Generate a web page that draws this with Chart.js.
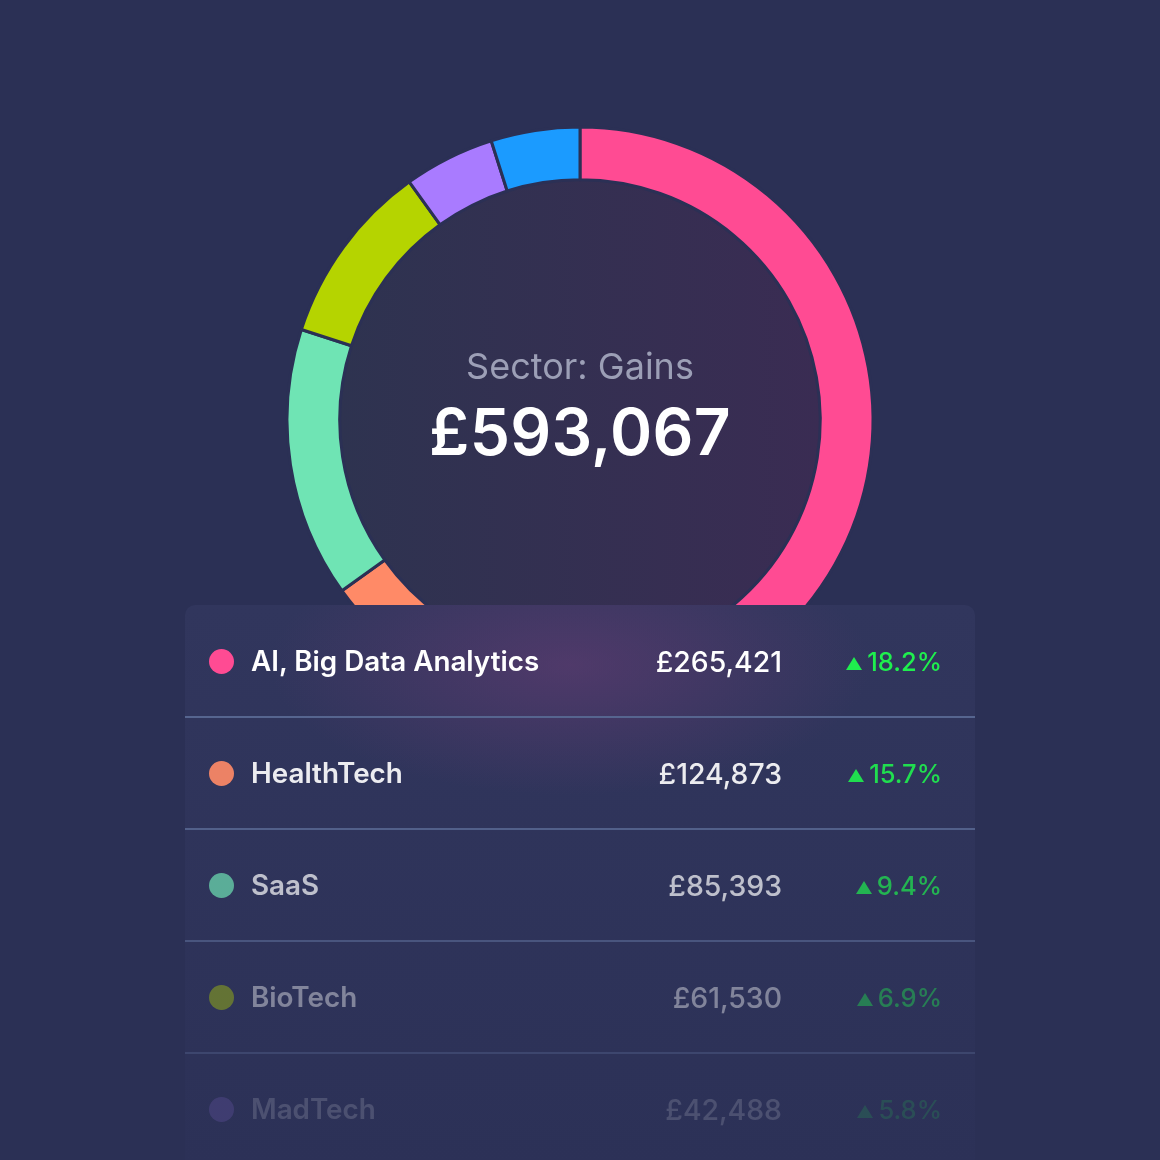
<!DOCTYPE html>
<html>
<head>
<meta charset="utf-8">
<script src="https://cdn.jsdelivr.net/npm/chart.js@4.4.1/dist/chart.umd.min.js"></script>
<style>
  html, body { margin: 0; padding: 0; }
  body { width: 1160px; height: 1160px; background: #2b3055; position: relative; overflow: hidden; font-family: Inter, "Noto Sans", sans-serif; }
  #ring { position: absolute; left: 280px; top: 120px; width: 600px; height: 600px; }
  #center { position: absolute; left: 330px; top: 340px; width: 500px; text-align: center; pointer-events: none; }
  #center .sub { color: #9c9fb6; font-size: 36px; font-weight: 400; line-height: 52px; }
  #center .total { color: #ffffff; font-size: 64px; font-weight: 600; line-height: 80px; letter-spacing: 0.3px; }
  #panel { position: absolute; left: 185px; top: 605px; width: 790px; height: 560px; border-radius: 10px 10px 0 0;
    background:
      radial-gradient(ellipse 300px 130px at 385px 60px, rgba(100, 60, 115, 0.6), rgba(100, 60, 115, 0) 100%),
      linear-gradient(to bottom, #31365d, #2c3157);
  }
  .row { position: absolute; left: 0; width: 790px; height: 112px; }
  .row .dot { position: absolute; left: 24px; top: 44px; width: 25px; height: 25px; border-radius: 50%; }
  .row .name { position: absolute; left: 66px; top: 39px; font-size: 27.8px; font-weight: 600; color: #fff; white-space: nowrap; }
  .row .amt { position: absolute; right: 193px; top: 39px; font-size: 28.4px; font-weight: 500; color: #fff; white-space: nowrap; }
  .row .pct { position: absolute; right: 33px; top: 41px; font-size: 25.5px; font-weight: 500; color: #1fef4e; white-space: nowrap; }
  .row .tri { display: inline-block; width: 0; height: 0; border-left: 8px solid transparent; border-right: 8px solid transparent; border-bottom: 13px solid #1fef4e; margin-right: 5px; vertical-align: 1px; }
  .row .line { position: absolute; left: 0; bottom: -1px; width: 790px; height: 2px; background: #56658f; }
</style>
</head>
<body>
<div id="ring"><canvas id="ringChart"></canvas></div>
<div id="center">
  <div class="sub">Sector: Gains</div>
  <div class="total" id="total"></div>
</div>
<div id="panel"></div>
<script>
// table values
const sectors = ['AI, Big Data Analytics', 'HealthTech', 'SaaS', 'BioTech', 'MadTech'];
const amounts = [265421, 124873, 85393, 61530, 42488];
const growth = [18.2, 15.7, 9.4, 6.9, 5.8];
const totalGains = 593067;

// ring shares (% of circle)
const ringLabels = ['AI, Big Data Analytics', 'HealthTech', 'SaaS', 'BioTech', 'MadTech', 'Other'];
const ringShares = [44.3, 20.8, 14.9, 10.1, 5.0, 4.9];
const ringColors = ['#ff4b93', '#ff8a67', '#6fe4b4', '#b5d400', '#a97bff', '#1b9bff'];

// how much each table row fades out
const rowAlpha = [1, 0.91, 0.69, 0.4, 0.15];

const fmt = n => '£' + n.toLocaleString('en-GB');

document.getElementById('total').textContent = fmt(totalGains);

const panel = document.getElementById('panel');
sectors.forEach((s, i) => {
  const row = document.createElement('div');
  row.className = 'row';
  row.style.top = (i * 112) + 'px';
  row.innerHTML =
    `<div class="dot" style="background:${ringColors[i]}"></div>` +
    `<div class="name">${s}</div>` +
    `<div class="amt">${fmt(amounts[i])}</div>` +
    `<div class="pct"><span class="tri"></span>${growth[i].toFixed(1)}%</div>` +
    (i < sectors.length - 1 ? '<div class="line"></div>' : '');
  row.style.opacity = rowAlpha[i];
  panel.appendChild(row);
});

// fill the hole with a soft gradient disc
const holeFill = {
  id: 'holeFill',
  beforeDatasetsDraw(chart) {
    const arc = chart.getDatasetMeta(0).data[0];
    if (!arc) return;
    const { x, y, innerRadius } = arc.getProps(['x', 'y', 'innerRadius'], true);
    const ctx = chart.ctx;
    const g = ctx.createLinearGradient(x - innerRadius, y, x + innerRadius, y);
    g.addColorStop(0, '#2e3350');
    g.addColorStop(1, '#3a2c53');
    ctx.save();
    ctx.beginPath();
    ctx.arc(x, y, innerRadius, 0, Math.PI * 2);
    ctx.fillStyle = g;
    ctx.fill();
    ctx.restore();
  }
};

new Chart(document.getElementById('ringChart'), {
  type: 'doughnut',
  data: {
    labels: ringLabels,
    datasets: [{
      data: ringShares,
      backgroundColor: ringColors,
      borderColor: '#2b3055',
      borderWidth: 3,
      hoverOffset: 0
    }]
  },
  options: {
    responsive: true,
    maintainAspectRatio: false,
    animation: false,
    radius: 293,
    cutout: '82%',
    plugins: {
      legend: { display: false },
      tooltip: { enabled: false }
    }
  },
  plugins: [holeFill]
});
</script>
</body>
</html>
